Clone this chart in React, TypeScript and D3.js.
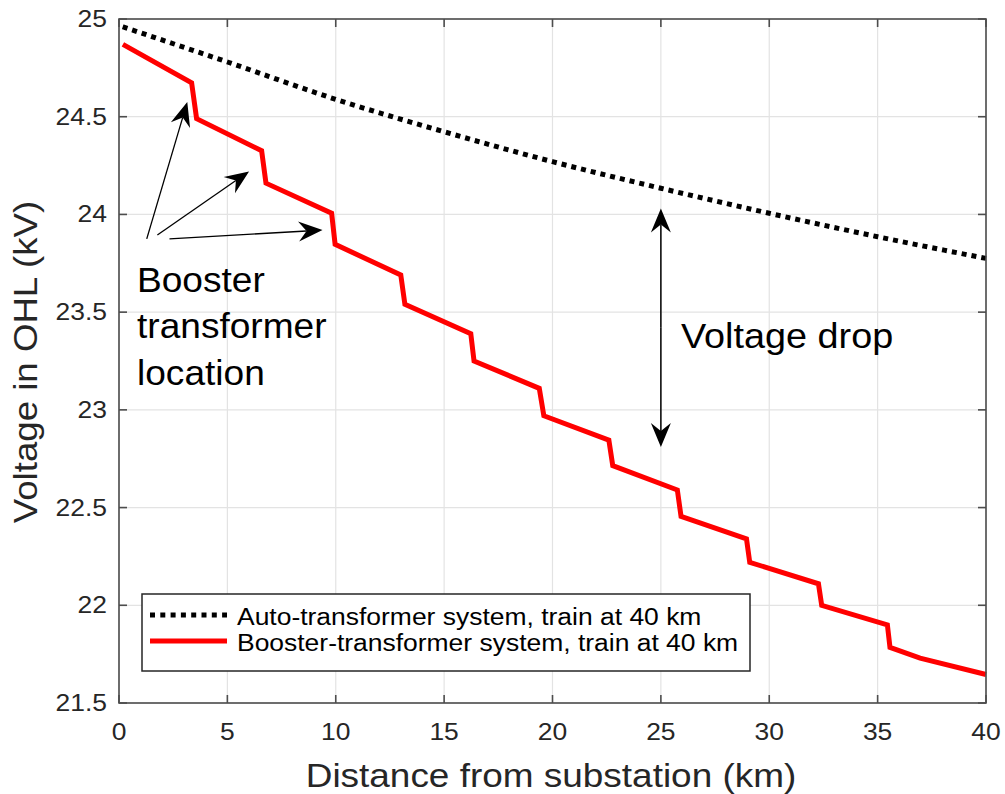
import React from "react";
import * as d3 from "d3";

const xTicks = [0, 5, 10, 15, 20, 25, 30, 35, 40];
const yTicks = [21.5, 22, 22.5, 23, 23.5, 24, 24.5, 25];

const autoX = [0.17, 5, 10, 15, 20, 25, 30, 35, 40];
const autoV = [24.96, 24.78, 24.589, 24.423, 24.27, 24.134, 24.006, 23.886, 23.775];

const boosterX = [0.18, 3.35, 3.58, 6.58, 6.78, 9.81, 9.97, 13.0, 13.19, 16.23, 16.38, 19.39, 19.6, 22.6, 22.78, 25.76, 25.93, 28.95, 29.1, 32.27, 32.42, 35.45, 35.57, 36.96, 40];
const boosterV = [24.87, 24.674, 24.49, 24.326, 24.16, 24.006, 23.847, 23.69, 23.54, 23.39, 23.25, 23.11, 22.97, 22.845, 22.715, 22.59, 22.455, 22.34, 22.22, 22.11, 22.0, 21.9, 21.785, 21.73, 21.646];

const legendLabels = [
  "Auto-transformer system, train at 40 km",
  "Booster-transformer system, train at 40 km",
];
const boosterNote = ["Booster", "transformer", "location"];
// arrow annotations in data units: [fromX, fromY, toX, toY]
const boosterArrows = [
  [1.28, 23.875, 3.15, 24.575],
  [1.77, 23.895, 6.0, 24.22],
  [2.33, 23.875, 9.39, 23.92],
];
const dropArrow = [25.0, 24.03, 25.0, 22.81];

const FONT = "'Liberation Sans', Arial, Helvetica, sans-serif";

function Arrow({ x1, y1, x2, y2, L = 24, hw = 10, notch = 16, sw = 1.3 }: any) {
  const dx = x2 - x1, dy = y2 - y1;
  const len = Math.hypot(dx, dy);
  const ux = dx / len, uy = dy / len;
  const px = -uy, py = ux;
  const bx = x2 - ux * L, by = y2 - uy * L;
  const nx = x2 - ux * notch, ny = y2 - uy * notch;
  const pts = [
    [x2, y2],
    [bx + px * hw, by + py * hw],
    [nx, ny],
    [bx - px * hw, by - py * hw],
  ];
  return (
    <g>
      <line x1={x1} y1={y1} x2={nx} y2={ny} stroke="#000" strokeWidth={sw} />
      <polygon points={pts.map((p) => p.join(",")).join(" ")} fill="#000" />
    </g>
  );
}

function SText({ x, y, s = 1, rot = 0, anchor = "start", size, fill = "#000", children }: any) {
  return (
    <text
      transform={`translate(${x},${y})${rot ? ` rotate(${rot})` : ""} scale(${s},1)`}
      textAnchor={anchor}
      fontSize={size}
      fill={fill}
    >
      {children}
    </text>
  );
}

export default function App() {
  const W = 1005, H = 794;
  const left = 119, right = 986, top = 19, bottom = 703;
  const x = d3.scaleLinear().domain([0, 40]).range([left, right]);
  const y = d3.scaleLinear().domain([21.5, 25]).range([bottom, top]);

  const autoData = autoX.map((v, i) => [v, autoV[i]] as [number, number]);
  const boostData = boosterX.map((v, i) => [v, boosterV[i]] as [number, number]);
  const autoLine = d3.line<[number, number]>().x((d) => x(d[0])).y((d) => y(d[1])).curve(d3.curveMonotoneX);
  const boostLine = d3.line<[number, number]>().x((d) => x(d[0])).y((d) => y(d[1]));

  const axisColor = "#4d4d4d";
  const tickLen = 8;

  return (
    <svg width={W} height={H} style={{ position: "absolute", left: 0, top: 0, background: "#fff" }} fontFamily={FONT}>
      <rect x={0} y={0} width={W} height={H} fill="#fff" />
      {/* grid */}
      {xTicks.map((t) => (
        <line key={"gx" + t} x1={x(t)} x2={x(t)} y1={top} y2={bottom} stroke="#e3e3e3" strokeWidth={1.2} />
      ))}
      {yTicks.map((t) => (
        <line key={"gy" + t} x1={left} x2={right} y1={y(t)} y2={y(t)} stroke="#e3e3e3" strokeWidth={1.2} />
      ))}
      {/* lines */}
      <path d={autoLine(autoData) || ""} fill="none" stroke="#000" strokeWidth={5} strokeDasharray="5,5" />
      <path d={boostLine(boostData) || ""} fill="none" stroke="#ff0000" strokeWidth={5} strokeLinejoin="miter" />
      {/* box */}
      <rect x={left} y={top} width={right - left} height={bottom - top} fill="none" stroke={axisColor} strokeWidth={1.6} />
      {/* ticks */}
      {xTicks.map((t) => (
        <g key={"tx" + t}>
          <line x1={x(t)} x2={x(t)} y1={bottom} y2={bottom - tickLen} stroke={axisColor} strokeWidth={1.6} />
          <line x1={x(t)} x2={x(t)} y1={top} y2={top + tickLen} stroke={axisColor} strokeWidth={1.6} />
          <SText x={x(t)} y={740} anchor="middle" size={23} s={1.15} fill="#262626">{t}</SText>
        </g>
      ))}
      {yTicks.map((t) => (
        <g key={"ty" + t}>
          <line x1={left} x2={left + tickLen} y1={y(t)} y2={y(t)} stroke={axisColor} strokeWidth={1.6} />
          <line x1={right} x2={right - tickLen} y1={y(t)} y2={y(t)} stroke={axisColor} strokeWidth={1.6} />
          <SText x={107} y={y(t) + 8} anchor="end" size={23} s={1.15} fill="#262626">{t}</SText>
        </g>
      ))}
      {/* axis labels */}
      <SText x={551} y={787} anchor="middle" size={33} s={1.12} fill="#262626">Distance from substation (km)</SText>
      <SText x={37} y={362} rot={-90} anchor="middle" size={33} s={1.11} fill="#262626">Voltage in OHL (kV)</SText>

      {/* annotations */}
      {boosterArrows.map((a, i) => (
        <Arrow key={"ba" + i} x1={x(a[0])} y1={y(a[1])} x2={x(a[2])} y2={y(a[3])} sw={1.3} />
      ))}
      {boosterNote.map((s, i) => (
        <SText key={"bn" + i} x={137} y={291.7 + i * 46.7} size={35} s={1.06}>{s}</SText>
      ))}
      <Arrow x1={x(dropArrow[0])} y1={(y(dropArrow[1]) + y(dropArrow[3])) / 2} x2={x(dropArrow[0])} y2={y(dropArrow[1])} sw={1.5} />
      <Arrow x1={x(dropArrow[0])} y1={(y(dropArrow[1]) + y(dropArrow[3])) / 2} x2={x(dropArrow[2])} y2={y(dropArrow[3])} sw={1.5} />
      <SText x={681} y={348} size={35} s={1.08}>Voltage drop</SText>

      {/* legend */}
      <rect x={142} y={594} width={608} height={77} fill="#fff" stroke="#262626" strokeWidth={1.5} />
      <line x1={150} x2={227} y1={615} y2={615} stroke="#000" strokeWidth={5} strokeDasharray="5,5.3" />
      <line x1={150} x2={227} y1={641} y2={641} stroke="#ff0000" strokeWidth={5} />
      <SText x={237} y={624.5} size={24.5} s={1.08}>{legendLabels[0]}</SText>
      <SText x={237} y={650.5} size={24.5} s={1.08}>{legendLabels[1]}</SText>
    </svg>
  );
}
